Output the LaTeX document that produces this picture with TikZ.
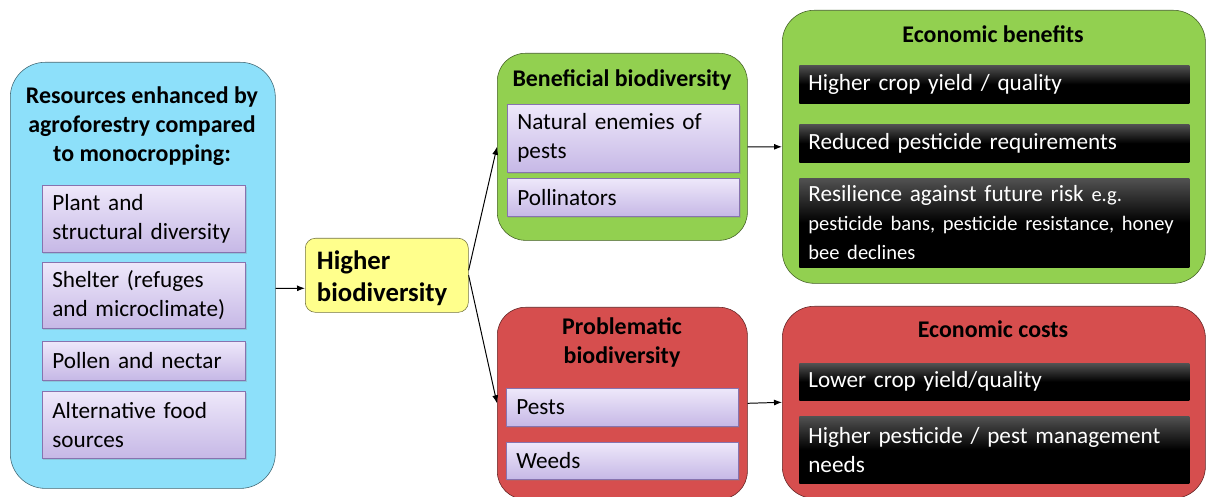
\documentclass[tikz,border=0pt]{standalone}
\usepackage{fontspec}
\setmainfont{Carlito}
\usetikzlibrary{arrows.meta,shadows}

\definecolor{resblue}{RGB}{141,224,250}
\definecolor{goodgreen}{RGB}{146,208,80}
\definecolor{badred}{RGB}{214,78,78}
\definecolor{highyellow}{RGB}{255,255,140}
\definecolor{itemtop}{RGB}{238,232,250}
\definecolor{itembot}{RGB}{198,184,230}
\definecolor{itemedge}{RGB}{135,115,175}

\begin{document}
\begin{tikzpicture}[x=0.025cm,y=-0.025cm,
    txt/.style={font=\fontsize{16.5}{20.6}\selectfont},
    hd/.style={font=\bfseries\fontsize{17}{20.6}\selectfont, align=center},
    group/.style={draw=#1!45!black, fill=#1, inner sep=0pt, anchor=north west},
    item/.style={draw=itemedge, top color=itemtop, bottom color=itembot,
        anchor=north west, inner xsep=0.25cm, inner ysep=0pt, align=left, txt,
        drop shadow={opacity=0.25, shadow xshift=0.03cm, shadow yshift=-0.05cm}},
    dark/.style={top color=black!68, bottom color=black, middle color=black,
        text=white, anchor=north west, inner xsep=0.225cm, inner ysep=0pt,
        align=left, txt, text width=9.3cm, minimum height=#1},
    link/.style={-{Latex[length=2mm,width=1.5mm]}, line width=0.7pt}
    ]

    \useasboundingbox (0,0) rectangle (1208,497);

    %resources:
    \node[group=resblue, rounded corners=0.875cm, minimum width=6.625cm, minimum height=10.65cm] (res) at (10,62) {};
    \node[hd] (restitle) at (142,126) {Resources enhanced by\\agroforestry compared\\to monocropping:};
    \node[item, text width=4.575cm, minimum height=1.675cm] (plant) at (42,185) {Plant and\\structural diversity};
    \node[item, text width=4.575cm, minimum height=1.65cm] (shelter) at (42,262) {Shelter (refuges\\and microclimate)};
    \node[item, text width=4.575cm, minimum height=0.975cm] (pollen) at (42,341) {Pollen and nectar};
    \node[item, text width=4.575cm, minimum height=1.675cm] (altfood) at (42,391) {Alternative food\\sources};

    %higher biodiversity:
    \node[group=highyellow, rounded corners=0.25cm, minimum width=4.075cm, minimum height=1.85cm] (high) at (305,238) {};
    \node[font=\bfseries\fontsize{19}{22.8}\selectfont, align=left, anchor=west] (hightext) at (312,278) {Higher\\biodiversity};

    %beneficial:
    \node[group=goodgreen, rounded corners=0.7cm, minimum width=6.25cm, minimum height=4.675cm] (ben) at (497,53) {};
    \node[hd] (bentitle) at (622,80) {Beneficial biodiversity};
    \node[item, text width=5.3cm, minimum height=1.7cm] (enemies) at (507,104) {Natural enemies of\\pests};
    \node[item, text width=5.3cm, minimum height=0.95cm] (pollinators) at (507,178) {Pollinators};

    %problematic:
    \node[group=badred, rounded corners=0.7cm, minimum width=6.25cm, minimum height=4.8cm] (prob) at (497,307) {};
    \node[hd] (probtitle) at (622,342) {Problematic\\biodiversity};
    \node[item, text width=5.3cm, minimum height=0.95cm] (pests) at (506,388) {Pests};
    \node[item, text width=5.3cm, minimum height=0.925cm] (weeds) at (506,442) {Weeds};

    %economic benefits:
    \node[group=goodgreen, rounded corners=0.8cm, minimum width=10.575cm, minimum height=6.825cm] (gain) at (782,10) {};
    \node[hd] (gaintitle) at (993,34) {Economic benefits};
    \node[dark=0.95cm] (yield) at (799,65) {Higher crop yield / quality};
    \node[dark=0.95cm] (lesspest) at (799,124) {Reduced pesticide requirements};
    \node[dark=2.225cm] (resil) at (799,178) {Resilience against future risk {\fontsize{14.6}{18}\selectfont e.g.}\\
        {\fontsize{14.6}{18}\selectfont pesticide bans, pesticide resistance, honey}\\
        {\fontsize{14.6}{18}\selectfont bee declines}};

    %economic costs:
    \node[group=badred, rounded corners=0.8cm, minimum width=10.575cm, minimum height=4.8cm] (cost) at (782,306) {};
    \node[hd] (costtitle) at (993,329) {Economic costs};
    \node[dark=0.925cm] (lowyield) at (799,363) {Lower crop yield/quality};
    \node[dark=1.675cm] (morepest) at (799,416) {Higher pesticide / pest management\\needs};

    %arrows:
    \draw[link] ([yshift=-0.325cm]res.east) -- ([yshift=-0.325cm]high.west);
    \draw[link] ([yshift=0.125cm]high.east) -- (ben.west);
    \draw[link] (high.east) -- (prob.west);
    \draw[link] (ben.east) -- (gain.west);
    \draw[link] (prob.east) -- (cost.west);

\end{tikzpicture}
\end{document}
